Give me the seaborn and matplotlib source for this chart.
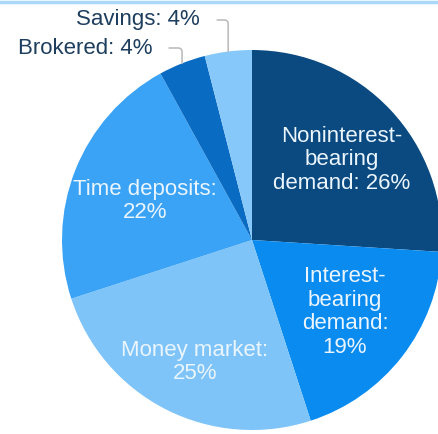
import numpy as np
import seaborn as sns
import matplotlib.pyplot as plt

# deposit mix (%), clockwise from 12 o'clock
categories = ["Noninterest-\nbearing\ndemand", "Interest-\nbearing\ndemand:\n", "Money market:\n",
              "Time deposits:\n", "Brokered", "Savings"]
shares = [26, 19, 25, 22, 4, 4]
colors = ["#0B4A80", "#0A8BF0", "#7EC4F8", "#3AA3F5", "#0A6BC3", "#86C8F9"]

sns.set_theme(style="white")
plt.rcParams["font.family"] = ["Liberation Sans", "DejaVu Sans"]

W, H = 439, 434
cx, cy, r = 252, 240, 190  # pie centre / radius in pixels

fig = plt.figure(figsize=(W / 100, H / 100), dpi=100)
ax = fig.add_axes([0, 0, 1, 1])
wedges, _ = ax.pie(shares, colors=colors, startangle=90, counterclock=False,
                   wedgeprops=dict(linewidth=0))
ax.set_xlim(-cx / r, (W - cx) / r)
ax.set_ylim(-(H - cy) / r, cy / r)
ax.set_aspect("auto")
ax.axis("off")


def to_data(px, py):
    return (px - cx) / r, (cy - py) / r


# labels inside the large slices (pixel anchor of the text block centre)
inside = {0: (342, 160), 1: (345, 312), 2: (195, 362), 3: (145, 201)}
for i, (px, py) in inside.items():
    name = categories[i]
    if name.endswith("\n"):
        txt = f"{name}{shares[i]}%"
    else:
        txt = f"{name}: {shares[i]}%"
    ax.text(*to_data(px, py), txt, ha="center", va="center",
            color="#EAF5FE", fontsize=16, linespacing=1.15)

# small slices get outside labels with elbow leaders
outside = {4: (152, 48), 5: (200, 20)}
for i, (px, py) in outside.items():
    w = wedges[i]
    ang = np.deg2rad((w.theta1 + w.theta2) / 2)
    ax.annotate(f"{categories[i]}: {shares[i]}%",
                xy=(np.cos(ang), np.sin(ang)),
                xytext=to_data(px, py),
                ha="right", va="center", color="#1E3E5E", fontsize=16,
                arrowprops=dict(arrowstyle="-", color="#BDBDBD", lw=1.2,
                                shrinkA=10, shrinkB=0, relpos=(1, 0.5),
                                connectionstyle="angle,angleA=0,angleB=90,rad=4"))

# thin light-blue rule along the top edge
fig.add_artist(plt.Line2D([0, 1], [0.996, 0.996], color="#A9D8F8", lw=2.5,
                          transform=fig.transFigure))

fig.savefig("out.png", dpi=100)
